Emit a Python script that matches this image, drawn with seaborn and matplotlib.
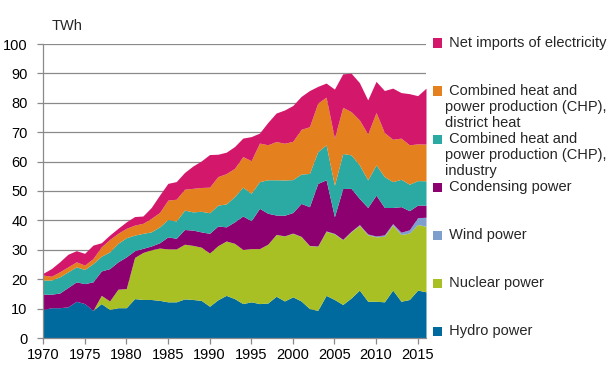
"""
Electricity supply by energy source, 1970-2016 (stacked area chart)
"""

import matplotlib
matplotlib.use("Agg")
import matplotlib.pyplot as plt
from matplotlib.patches import Rectangle
import numpy as np
import pandas as pd
import seaborn as sns

# data (TWh)
years = list(range(1970, 2017))

hydro = [9.7, 10.3, 10.3, 10.6, 12.5, 11.7, 9.4, 11.7, 9.7, 10.3,
         10.3, 13.4, 13.1, 13.1, 12.8, 12.3, 12.3, 13.3, 13.1, 12.8,
         10.8, 13.0, 14.5, 13.4, 11.7, 12.3, 11.7, 11.9, 14.2, 12.6,
         14.0, 12.6, 10.0, 9.4, 14.5, 13.1, 11.4, 13.6, 16.3, 12.5,
         12.5, 12.3, 16.3, 12.5, 13.1, 16.3, 15.7]

nuclear = [0, 0, 0, 0, 0, 0, 0, 2.8, 2.9, 6.3,
           6.5, 14.0, 16.0, 16.9, 17.8, 18.0, 18.0, 18.6, 18.4, 18.1,
           18.1, 18.4, 18.5, 18.8, 18.4, 18.1, 18.7, 20.0, 21.0, 22.1,
           21.6, 21.9, 21.4, 21.8, 21.8, 22.3, 22.0, 22.5, 22.0, 22.6,
           21.9, 22.3, 22.1, 22.7, 22.6, 22.3, 22.3]

wind = [0] * 27 + [0.02, 0.02, 0.05,
                   0.08, 0.07, 0.06, 0.09, 0.12, 0.17, 0.15, 0.19, 0.26, 0.28,
                   0.29, 0.48, 0.49, 0.78, 1.11, 2.33, 3.07]

condensing = [5.2, 4.6, 5.0, 6.6, 6.6, 6.8, 9.7, 8.3, 11.0, 9.3,
              10.8, 2.3, 1.4, 1.3, 1.8, 4.1, 3.6, 5.0, 5.2, 5.2,
              6.7, 6.7, 4.8, 7.3, 11.4, 9.5, 13.7, 10.5, 6.6, 7.0,
              7.0, 11.2, 13.2, 21.3, 17.4, 5.7, 17.3, 14.6, 8.9, 9.0,
              13.9, 9.3, 5.5, 8.7, 6.5, 4.3, 4.1]

chp_industry = [4.8, 4.8, 5.5, 5.3, 5.1, 4.8, 6.2, 5.0, 5.7, 6.3,
                6.5, 5.3, 5.1, 4.8, 5.4, 5.9, 5.9, 6.6, 6.2, 7.0,
                7.0, 7.1, 7.8, 8.6, 9.8, 9.3, 9.1, 11.4, 12.0, 12.0,
                11.2, 10.0, 11.3, 10.8, 11.9, 10.7, 11.9, 11.4, 11.4, 9.4,
                10.3, 10.5, 8.8, 9.3, 9.0, 8.3, 8.3]

chp_district = [1.7, 1.3, 1.7, 1.7, 1.7, 1.5, 1.7, 3.2, 4.2, 3.4,
                3.2, 3.4, 3.4, 4.6, 4.9, 6.6, 7.4, 7.1, 8.0, 8.1,
                8.7, 9.7, 10.3, 9.6, 10.4, 11.1, 13.1, 11.9, 13.0, 12.5,
                13.0, 15.2, 15.9, 16.5, 16.2, 16.0, 15.7, 14.7, 15.3, 15.6,
                17.8, 15.0, 14.4, 14.0, 13.4, 12.5, 12.5]

net_imports = [0.6, 2.6, 3.4, 4.3, 3.8, 4.0, 4.6, 1.4, 1.5, 1.7,
               2.2, 2.9, 2.5, 3.7, 5.9, 5.7, 6.0, 5.7, 7.6, 9.0,
               11.1, 7.6, 7.3, 7.4, 6.3, 8.2, 3.4, 7.6, 9.7, 11.3,
               12.2, 11.2, 12.3, 5.7, 4.8, 16.7, 11.4, 13.1, 12.7, 11.6,
               10.6, 14.3, 17.4, 15.5, 17.4, 16.4, 19.0]

labels = [
    "Hydro power",
    "Nuclear power",
    "Wind power",
    "Condensing power",
    " Combined heat and\npower production (CHP),\nindustry",
    " Combined heat and\npower production (CHP),\ndistrict heat",
    "Net imports of electricity",
]
colors = ["#006a9f", "#a9c025", "#7e9fce", "#8c0070",
          "#2aaaa2", "#e4801d", "#d3186b"]

df = pd.DataFrame({
    labels[0]: hydro,
    labels[1]: nuclear,
    labels[2]: wind,
    labels[3]: condensing,
    labels[4]: chp_industry,
    labels[5]: chp_district,
    labels[6]: net_imports,
}, index=years)

sns.set_theme(style="white")
plt.rcParams['font.family'] = ['Liberation Sans', 'DejaVu Sans']
plt.rcParams['font.size'] = 10.5

fig = plt.figure(figsize=(6.14, 3.78), dpi=100)
ax = fig.add_axes([43 / 614, 1 - 338 / 378, 383 / 614, 294 / 378])

ax.stackplot(df.index, df.T.values, colors=colors, linewidth=0)

ax.set_xlim(1970, 2016)
ax.set_ylim(0, 100)
ax.set_xticks(range(1970, 2016, 5))
ax.set_yticks(range(0, 101, 10))
ax.yaxis.grid(True, color="#8a8a8a", linewidth=0.9)
ax.set_axisbelow(True)
for side in ["top", "right"]:
    ax.spines[side].set_visible(False)
for side in ["left", "bottom"]:
    ax.spines[side].set_color("#8a8a8a")
    ax.spines[side].set_linewidth(0.9)
ax.tick_params(axis="both", which="major", length=4, width=0.9,
               color="#8a8a8a", labelsize=10.5, labelcolor="black")
ax.tick_params(axis="y", pad=7, left=True)
ax.tick_params(axis="x", pad=3, bottom=True)

fig.text(52 / 614, 1 - 26 / 378, "TWh", fontsize=10.5, va="center", ha="left")

# legend, top to bottom
for i, lab in enumerate(reversed(labels)):
    col = list(reversed(colors))[i]
    yc = 43 + 48 * i
    fig.patches.append(Rectangle((433 / 614, 1 - (yc + 4.5) / 378), 9 / 614, 9 / 378,
                                 transform=fig.transFigure, facecolor=col,
                                 edgecolor="none"))
    fig.text(445 / 614, 1 - (yc - 7) / 378, lab if lab.startswith(" ") else " " + lab,
             fontsize=10.5, va="top", ha="left", linespacing=1.2)

plt.savefig("out.png", dpi=100)
plt.close()
